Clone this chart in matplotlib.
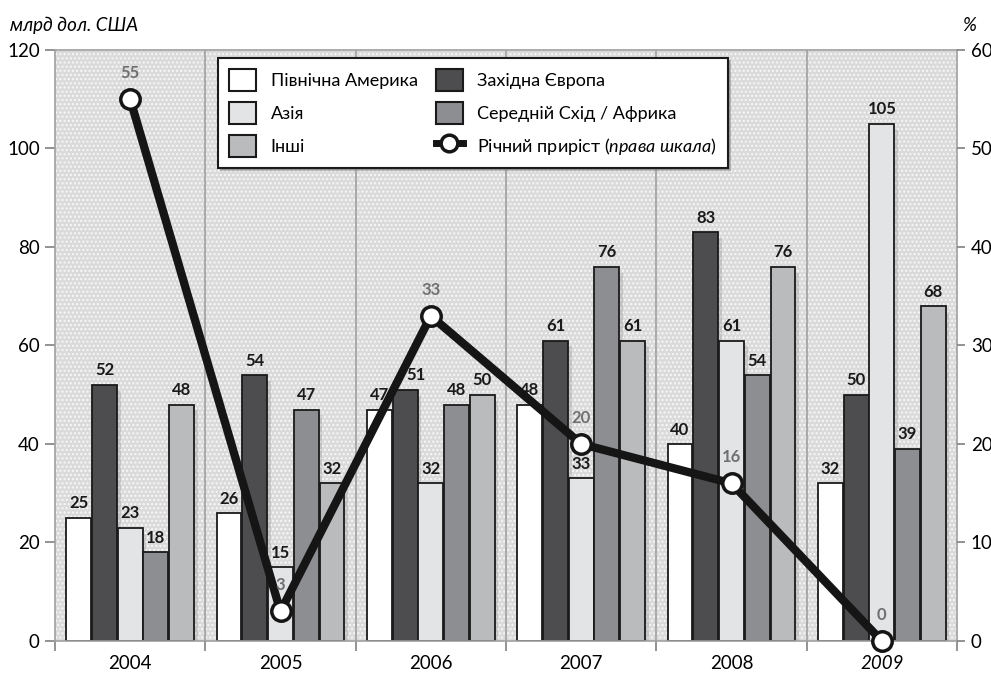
import matplotlib
matplotlib.use("Agg")
import matplotlib.pyplot as plt
import numpy as np
from matplotlib.patches import Rectangle, Patch
from matplotlib.lines import Line2D

plt.rcParams['font.family'] = ['Lato', 'DejaVu Sans']
plt.rcParams['mathtext.fontset'] = 'custom'
plt.rcParams['mathtext.it'] = 'Lato:italic'
plt.rcParams['mathtext.rm'] = 'Lato'
plt.rcParams['hatch.linewidth'] = 1.0

years = ['2004', '2005', '2006', '2007', '2008', '2009']
series_names = ['Північна Америка', 'Західна Європа', 'Азія', 'Середній Схід / Африка', 'Інші']
north_america = [25, 26, 47, 48, 40, 32]
western_europe = [52, 54, 51, 61, 83, 50]
asia = [23, 15, 32, 33, 61, 105]
mideast_africa = [18, 47, 48, 76, 54, 39]
others = [48, 32, 50, 61, 76, 68]
growth = [55, 3, 33, 20, 16, 0]
growth_label = 'Річний приріст $\\it{(права\\ шкала)}$'

series = [north_america, western_europe, asia, mideast_africa, others]
colors = ['#ffffff', '#4d4d4f', '#e3e4e6', '#8d8e91', '#babbbd']

fig = plt.figure(figsize=(9.91, 6.77), dpi=100)
ax = fig.add_axes([0.0555, 0.0532, 0.9102, 0.873])
ax.set_xlim(-0.5, 5.5)
ax.set_ylim(0, 120)

# background pattern
bg = Rectangle((0, 0), 1, 1, transform=ax.transAxes, facecolor='#dadada',
               edgecolor='#f8f8f8', hatch='....', linewidth=0, zorder=0)
ax.add_patch(bg)

x = np.arange(len(years))
width = 0.165
step = 0.171
for i, (vals, c) in enumerate(zip(series, colors)):
    pos = x + (i - 2) * step
    # shadow
    ax.bar(pos + 0.025, vals, width, bottom=-1.2, color='#555555', alpha=0.18,
           linewidth=0, zorder=1)
    ax.bar(pos, vals, width, color=c, edgecolor='#1a1a1a', linewidth=1.3, zorder=2)
    for j, (p, v) in enumerate(zip(pos, vals)):
        dx = 0.07 if (i == 1 and j == 2) else 0.0
        ax.text(p + dx, v + 1.3, str(v), ha='center', va='bottom', fontsize=12,
                fontweight='bold', color='#1a1a1a', zorder=6)

# group separators
for b in np.arange(0.5, 5.5, 1):
    ax.axvline(b, color='#a0a0a0', linewidth=1.2, zorder=0.5)

ax.set_xticks(np.arange(-0.5, 6, 1), minor=False)
ax.set_xticklabels([])
ax.set_xticks(x, minor=True)
ax.set_xticklabels(years, minor=True, fontsize=13.5)
ax.get_xticklabels(minor=True)[-1].set_style('italic')
ax.tick_params(axis='x', which='major', length=7, color='#808080', width=1.2)
ax.tick_params(axis='x', which='minor', length=0, pad=10)
ax.set_yticks(np.arange(0, 121, 20))
ax.tick_params(axis='y', length=7, color='#808080', width=1.2, labelsize=13.5, pad=4)
for s in ax.spines.values():
    s.set_color('#a0a0a0')
    s.set_linewidth(1.2)

ax2 = ax.twinx()
ax2.set_ylim(0, 60)
ax2.set_yticks(np.arange(0, 61, 10))
ax2.tick_params(axis='y', length=6, color='#808080', width=1.2, labelsize=13.5, pad=4)
for s in ax2.spines.values():
    s.set_visible(False)

ax2.plot(x, growth, color='#151515', linewidth=6, zorder=5, solid_capstyle='round',
         marker='o', markersize=14, markerfacecolor='white', markeredgecolor='#151515',
         markeredgewidth=2.5, clip_on=False)
for xi, g in zip(x, growth):
    ax2.annotate(str(g), (xi, g), xytext=(0, 13), textcoords='offset points',
                 ha='center', va='bottom', fontsize=12, fontweight='bold', color='#707070',
                 zorder=6)

handles = [Patch(facecolor=colors[0], edgecolor='#1a1a1a', linewidth=1.5),
           Patch(facecolor=colors[2], edgecolor='#1a1a1a', linewidth=1.5),
           Patch(facecolor=colors[4], edgecolor='#1a1a1a', linewidth=1.5),
           Patch(facecolor=colors[1], edgecolor='#1a1a1a', linewidth=1.5),
           Patch(facecolor=colors[3], edgecolor='#1a1a1a', linewidth=1.5),
           Line2D([], [], color='#151515', linewidth=5, marker='o', markersize=12,
                  markerfacecolor='white', markeredgecolor='#151515', markeredgewidth=2.5)]
labels = [series_names[0], series_names[2], series_names[4],
          series_names[1], series_names[3], growth_label]
leg = ax2.legend(handles, labels, ncol=2, loc='upper left', bbox_to_anchor=(0.181, 0.986),
                 borderaxespad=0, fontsize=13, frameon=True, fancybox=False,
                 edgecolor='#1a1a1a', handlelength=1.5, handleheight=1.5,
                 handletextpad=0.8, columnspacing=1.0, labelspacing=0.6,
                 borderpad=0.6, shadow={'color': '#888888', 'alpha': 0.5})
leg.get_frame().set_linewidth(1.5)
leg.set_zorder(10)

fig.text(0.01, 0.963, 'млрд дол. США', fontsize=13.5, style='italic', ha='left', va='center')
fig.text(0.985, 0.963, '%', fontsize=13.5, style='italic', ha='right', va='center')

fig.savefig('out.png', dpi=100)
